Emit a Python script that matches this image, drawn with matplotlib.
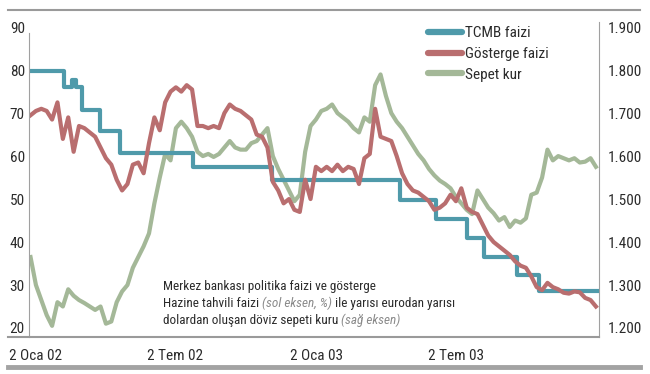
import matplotlib
matplotlib.use("Agg")
import matplotlib.pyplot as plt
import matplotlib.dates as mdates
from matplotlib import font_manager
from matplotlib.lines import Line2D
import pandas as pd

names = {f.name for f in font_manager.fontManager.ttflist}
font = next((n for n in ["Liberation Sans Narrow", "Roboto Condensed", "Open Sans Condensed",
                         "Liberation Sans"] if n in names), "DejaVu Sans")
plt.rcParams["font.family"] = [font, "DejaVu Sans"]

# weekly readings, end of Dec 2001 - end of Dec 2003
dates = pd.date_range("2001-12-26", periods=106, freq="7D")

gosterge = [69.5, 70.5, 71, 70.5, 68.5, 72.5, 64, 69, 61, 67,
            66.5, 65.5, 64.5, 62, 59.5, 58, 54.5, 52, 53.5, 58,
            58.5, 56, 63, 69, 66, 72.5, 75, 76, 75, 76.5,
            75.5, 67, 67, 66.5, 67, 66.5, 70, 72, 71, 70.5,
            69.5, 68.5, 65, 64.5, 62, 54, 52, 49, 50, 47.5,
            47, 54.5, 50, 57.5, 56.5, 57.5, 56.5, 58, 56.5, 57.5,
            57, 53.5, 59.5, 60.5, 71, 64.5, 64, 63.5, 60, 56,
            53.5, 52, 51.5, 50.5, 49.5, 47.5, 48, 49, 51, 49.5,
            52.5, 48, 47, 46.5, 44, 41.5, 40, 39, 38, 37,
            35.5, 34.5, 34, 32, 29.5, 28.8, 30.5, 29.5, 29, 28.2,
            28, 28.5, 28.3, 27, 26.5, 25]

sepet = [1.365, 1.300, 1.265, 1.230, 1.205, 1.260, 1.250, 1.290, 1.275, 1.265,
         1.258, 1.250, 1.242, 1.250, 1.210, 1.215, 1.260, 1.285, 1.300, 1.340,
         1.365, 1.390, 1.420, 1.490, 1.550, 1.605, 1.590, 1.665, 1.680, 1.665,
         1.645, 1.610, 1.600, 1.605, 1.598, 1.605, 1.620, 1.635, 1.620, 1.615,
         1.615, 1.630, 1.635, 1.650, 1.665, 1.600, 1.570, 1.545, 1.520, 1.495,
         1.510, 1.610, 1.670, 1.685, 1.705, 1.710, 1.720, 1.700, 1.690, 1.680,
         1.665, 1.655, 1.690, 1.680, 1.765, 1.790, 1.740, 1.700, 1.680, 1.665,
         1.645, 1.625, 1.605, 1.590, 1.570, 1.555, 1.543, 1.535, 1.525, 1.505,
         1.490, 1.475, 1.465, 1.520, 1.500, 1.480, 1.467, 1.450, 1.458, 1.435,
         1.450, 1.445, 1.455, 1.510, 1.515, 1.550, 1.615, 1.590, 1.600, 1.595,
         1.590, 1.595, 1.585, 1.587, 1.595, 1.575]

tcmb_dates = pd.to_datetime(["2001-12-24", "2002-02-08", "2002-02-18", "2002-02-23", "2002-03-03",
                             "2002-03-26", "2002-04-21", "2002-07-25", "2002-11-05", "2003-04-20",
                             "2003-06-06", "2003-07-17", "2003-08-07", "2003-09-20", "2003-10-18",
                             "2004-01-04"])
tcmb = [79.8, 76.1, 77.7, 76.1, 70.7, 65.8, 60.7, 57.4, 54.4, 49.8,
        45.3, 40.9, 36.5, 32.3, 28.6, 28.6]

tick_dates = pd.to_datetime(["2002-01-02", "2002-07-02", "2003-01-02", "2003-07-02"])
tick_labels = ["2 Oca 02", "2 Tem 02", "2 Oca 03", "2 Tem 03"]
left_ticks = [20, 30, 40, 50, 60, 70, 80, 90]
right_ticks = [1.2, 1.3, 1.4, 1.5, 1.6, 1.7, 1.8, 1.9]

c_tcmb = "#4f9aaa"
c_gost = "#b96e6f"
c_sepet = "#a4b898"
gray = "#a0a0a0"
txt = "#2b2b2b"

W, H = 650, 374
fig = plt.figure(figsize=(W / 100, H / 100), dpi=100)
ax = fig.add_axes([29 / W, 1 - 337 / H, 570 / W, 315 / H])
ax2 = ax.twinx()

ax2.plot(dates, sepet, color=c_sepet, lw=3, solid_joinstyle="round")
ax.plot(tcmb_dates, tcmb, color=c_tcmb, lw=3, drawstyle="steps-post")
ax.plot(dates, gosterge, color=c_gost, lw=3, solid_joinstyle="round")
ax.set_zorder(ax2.get_zorder() + 1)
ax.patch.set_visible(False)

ax.set_xlim(pd.Timestamp("2001-12-24"), pd.Timestamp("2004-01-04"))
ax.set_ylim(17.9, 91.2)
ax2.set_ylim(1.179, 1.912)

ax.set_xticks(tick_dates)
ax.set_xticklabels(tick_labels)
ax.set_yticks(left_ticks)
ax.set_yticklabels([str(v) for v in left_ticks])
ax2.set_yticks(right_ticks)
ax2.set_yticklabels([f"{v:.3f}".replace(".", ".") for v in right_ticks])

for a in (ax, ax2):
    for s in a.spines.values():
        s.set_visible(False)
    a.tick_params(length=0, labelsize=11, colors=txt)
ax.tick_params(axis="y", pad=3)
ax2.tick_params(axis="y", pad=6)
ax.tick_params(axis="x", pad=9)
ax.spines["left"].set_visible(True)
ax.spines["left"].set_color(gray)
ax.spines["left"].set_bounds(17.9, 88.6)
ax2.spines["right"].set_visible(True)
ax2.spines["right"].set_color(gray)

# frame lines outside the plot
fig.add_artist(Line2D([8 / W, 640 / W], [1 - 10 / H] * 2, color="#9a9a9a", lw=1.5))
fig.add_artist(Line2D([8 / W, 599 / W], [1 - 337 / H] * 2, color="#9a9a9a", lw=1.5))
fig.add_artist(Line2D([8 / W, 640 / W], [1 - 367 / H] * 2, color="#a3a3a3", lw=3.5))

handles = [Line2D([], [], color=c, lw=4.5, solid_capstyle="round") for c in (c_tcmb, c_gost, c_sepet)]
fig.legend(handles, ["TCMB faizi", "Gösterge faizi", "Sepet kur"], loc="upper left",
           bbox_to_anchor=(428 / W, 1 - 26 / H), frameon=False, fontsize=11,
           handlelength=2.2, handletextpad=0.2, labelspacing=0.45, borderaxespad=0,
           borderpad=0, labelcolor=txt)

# note with italic parts
renderer = fig.canvas.get_renderer()
fs = 9.5


def width(s, **kw):
    t = fig.text(0, 0, s, fontsize=fs, **kw)
    w = t.get_window_extent(renderer).width
    t.remove()
    return w


space = width("x x") - width("xx")
note = [
    (290, [("Merkez bankası politika faizi ve gösterge", False)]),
    (307, [("Hazine tahvili faizi", False), ("(sol eksen, %)", True), ("ile yarısı eurodan yarısı", False)]),
    (324, [("dolardan oluşan döviz sepeti kuru", False), ("(sağ eksen)", True)]),
]
for base, parts in note:
    x = 163
    for s, it in parts:
        kw = dict(style="italic", color="#8a8a8a") if it else dict(color=txt)
        t = fig.text(x / W, 1 - base / H, s, fontsize=fs, va="baseline", **kw)
        x += t.get_window_extent(renderer).width + space

fig.savefig("out.png", dpi=100)
